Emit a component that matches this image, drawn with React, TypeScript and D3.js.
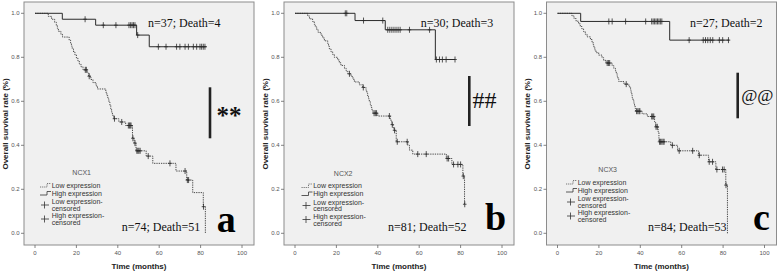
import React from "react";
import * as d3 from "d3";

// ---------- data ----------
const panelLabels = ["a", "b", "c"];
const geneNames = ["NCX1", "NCX2", "NCX3"];
const highNotes = ["n=37; Death=4", "n=30; Death=3", "n=27; Death=2"];
const lowNotes = ["n=74; Death=51", "n=81; Death=52", "n=84; Death=53"];
const sigMarks = ["**", "##", "@@"];
const xTicks = [0, 20, 40, 60, 80, 100];
const yTicks = [0, 0.2, 0.4, 0.6, 0.8, 1.0];
const legendLabels = ["Low expression", "High expression", "Low expression-", "High expression-"];
const xTitle = "Time (months)";
const yTitle = "Overall survival rate (%)";

// NCX1
const highA_steps: [number, number][] = [[13.2, 0.973], [29.3, 0.946], [49.1, 0.901], [55.2, 0.848]];
const highA_censor = [24.2, 33.0, 39.1, 45.4, 46.2, 46.9, 47.6, 48.3, 49.6, 59.6, 63.3, 68.4, 70.0, 72.5, 74.1, 76.5, 78.1, 79.7, 80.5, 81.3, 82.1];
const highA_end = 82.9;
const lowA_steps: [number, number][] = [
  [6.4, 0.986], [8.0, 0.973], [9.5, 0.959], [10.3, 0.945], [10.8, 0.932], [11.3, 0.918], [12.5, 0.905], [13.3, 0.892],
  [16.5, 0.878], [17.2, 0.865], [17.6, 0.851], [18.0, 0.838], [18.6, 0.824], [19.3, 0.811], [20.0, 0.797], [20.7, 0.784],
  [21.4, 0.770], [22.2, 0.757], [23.2, 0.743], [25.3, 0.728], [25.9, 0.714], [27.0, 0.699], [28.0, 0.685], [29.5, 0.670],
  [30.2, 0.656], [34.2, 0.641], [34.7, 0.626], [35.2, 0.611], [35.7, 0.596], [36.2, 0.581], [36.6, 0.566], [37.0, 0.551],
  [37.4, 0.536], [38.0, 0.521], [40.5, 0.506], [43.8, 0.490], [47.1, 0.432], [47.9, 0.410], [48.8, 0.375], [53.7, 0.351],
  [56.9, 0.318], [68.1, 0.283], [73.3, 0.242], [76.2, 0.185], [81.3, 0.121], [82.3, 0]
];
const lowA_censor = [24.3, 24.8, 26.2, 38.4, 41.9, 45.1, 45.6, 46.0, 46.4, 47.3, 48.3, 49.2, 49.7, 50.2, 50.8, 54.7, 65.2, 72.5, 73.6, 74.2, 81.4];
const lowA_end = 82.3;

// NCX2
const highB_steps: [number, number][] = [[29.0, 0.967], [43.6, 0.925], [67.8, 0.790]];
const highB_censor = [24.3, 25.0, 33.1, 42.4, 44.8, 45.8, 46.8, 47.8, 48.8, 49.8, 50.8, 55.3, 65.0, 68.3, 69.8, 71.2, 73.0, 77.3];
const highB_end = 77.3;
const lowB_steps: [number, number][] = [
  [6.1, 0.988], [7.0, 0.975], [8.5, 0.963], [9.3, 0.950], [9.8, 0.938], [10.5, 0.925], [11.2, 0.913], [12.6, 0.900],
  [13.4, 0.888], [14.2, 0.875], [15.8, 0.863], [16.2, 0.850], [16.6, 0.838], [17.4, 0.825], [18.2, 0.813], [19.0, 0.800],
  [20.6, 0.788], [21.4, 0.775], [22.2, 0.763], [23.9, 0.750], [24.7, 0.738], [25.5, 0.725], [27.1, 0.713], [28.0, 0.700],
  [28.7, 0.688], [31.1, 0.675], [32.7, 0.663], [34.3, 0.650], [34.7, 0.637], [35.1, 0.624], [35.5, 0.611], [35.9, 0.598],
  [36.4, 0.585], [36.8, 0.572], [37.2, 0.559], [37.6, 0.546], [40.0, 0.533], [46.0, 0.520], [46.4, 0.507], [46.8, 0.494],
  [47.3, 0.481], [47.8, 0.468], [48.9, 0.416], [54.5, 0.400], [55.3, 0.378], [56.9, 0.360], [73.1, 0.340], [75.8, 0.313],
  [81.1, 0.260], [81.9, 0.132]
];
const lowB_censor = [26.3, 33.0, 38.2, 38.8, 39.4, 45.6, 47.0, 48.1, 49.4, 54.2, 59.3, 63.4, 73.5, 74.2, 76.6, 78.7, 80.0, 81.3, 82.0];
const lowB_end = 82.0;

// NCX3
const highC_steps: [number, number][] = [[11.2, 0.963], [54.2, 0.878]];
const highC_censor = [24.8, 26.4, 32.9, 42.6, 45.5, 46.2, 46.9, 47.6, 48.3, 49.0, 49.7, 50.4, 63.6, 70.4, 71.5, 72.6, 73.8, 75.0, 78.2, 79.8, 82.6];
const highC_end = 83.0;
const lowC_steps: [number, number][] = [
  [7.0, 0.988], [8.0, 0.976], [9.0, 0.964], [10.2, 0.952], [11.0, 0.940], [11.8, 0.929], [12.6, 0.917], [13.4, 0.905],
  [14.3, 0.893], [15.9, 0.881], [16.7, 0.869], [17.2, 0.857], [17.6, 0.845], [18.0, 0.833], [18.6, 0.821], [19.9, 0.810],
  [21.5, 0.798], [22.3, 0.786], [23.4, 0.774], [26.4, 0.762], [27.2, 0.750], [28.0, 0.738], [28.4, 0.726], [28.8, 0.714],
  [29.2, 0.702], [29.6, 0.690], [32.1, 0.678], [34.5, 0.666], [35.3, 0.651], [35.6, 0.639], [35.9, 0.627], [36.1, 0.615],
  [36.5, 0.603], [36.9, 0.591], [37.2, 0.579], [37.5, 0.567], [37.7, 0.555], [40.9, 0.543], [43.4, 0.531], [46.9, 0.507],
  [47.4, 0.484], [48.6, 0.461], [49.0, 0.416], [54.7, 0.400], [58.0, 0.375], [68.2, 0.355], [73.0, 0.325], [76.5, 0.290],
  [81.3, 0.219], [82.1, 0]
];
const lowC_censor = [24.0, 24.6, 25.2, 33.2, 38.2, 38.8, 39.4, 39.8, 45.5, 46.0, 46.5, 47.6, 48.2, 49.3, 49.8, 50.4, 51.0, 51.5, 55.5, 58.8, 65.3, 68.5, 73.3, 74.9, 77.0, 79.7, 80.5, 81.4];
const lowC_end = 82.1;

const curves = [
  { high: { steps: highA_steps, censor: highA_censor, end: highA_end }, low: { steps: lowA_steps, censor: lowA_censor, end: lowA_end } },
  { high: { steps: highB_steps, censor: highB_censor, end: highB_end }, low: { steps: lowB_steps, censor: lowB_censor, end: lowB_end } },
  { high: { steps: highC_steps, censor: highC_censor, end: highC_end }, low: { steps: lowC_steps, censor: lowC_censor, end: lowC_end } },
];

// ---------- layout ----------
const W = 778, H = 273;
const boxLefts = [24, 284, 546.5];
const BOX_W = 230, BOX_TOP = 2, BOX_BOTTOM = 245;
const Y_TOP = 13.3, Y_BOT = 233.3;
const annot = [
  { hx: 124, bar: 186, barTop: 87.3, barBot: 138.3, sx: 192.5, sy: 123.5, sfs: 25, sw: "bold", lx: 97.7, lbl: 192.7, lblY: 231.7, legDx: 0, legDy: 0 },
  { hx: 136.7, bar: 185.3, barTop: 76, barBot: 126, sx: 188.5, sy: 108.3, sfs: 24, sw: "normal", lx: 104, lbl: 201, lblY: 230.3, legDx: 1.5, legDy: 0.5 },
  { hx: 143.5, bar: 191.2, barTop: 72.7, barBot: 118.3, sx: 194.7, sy: 101, sfs: 17.5, sw: "normal", lx: 101.5, lbl: 206.5, lblY: 229.5, legDx: 3.5, legDy: -3 },
];

const SANS = "'Liberation Sans', Arial, sans-serif";
const SERIF = "'Liberation Serif', 'Times New Roman', serif";

function survAt(steps: [number, number][], t: number) {
  let s = 1;
  for (const [st, sv] of steps) if (st <= t) s = sv;
  return s;
}

function Panel({ i }: { i: number }) {
  const L = boxLefts[i];
  const x = d3.scaleLinear().domain([0, 100]).range([L + 11, L + 218]);
  const y = d3.scaleLinear().domain([0, 1]).range([Y_BOT, Y_TOP]);
  const line = d3.line<[number, number]>().x(d => x(d[0])).y(d => y(d[1])).curve(d3.curveStepAfter);
  const c = curves[i];
  const a = annot[i];
  const mkPts = (cv: { steps: [number, number][]; end: number }) => {
    const pts: [number, number][] = [[0, 1], ...cv.steps];
    pts.push([cv.end, cv.steps[cv.steps.length - 1][1]]);
    return pts;
  };
  const censorMarks = (cv: { steps: [number, number][]; censor: number[] }, key: string) =>
    cv.censor.map((t, k) => {
      const cx = x(t), cy = y(survAt(cv.steps, t));
      return (
        <g key={key + k} stroke="#2a2a2a" strokeWidth={0.8}>
          <line x1={cx} x2={cx} y1={cy - 3} y2={cy + 3} />
          <line x1={cx - 1.8} x2={cx + 1.8} y1={cy} y2={cy} />
        </g>
      );
    });
  const lgX = L + 16 + a.legDx;
  const lgT = L + 27.7 + a.legDx;
  const dy = a.legDy;
  const cx = L + BOX_W / 2;
  return (
    <g>
      <rect x={L} y={BOX_TOP} width={BOX_W} height={BOX_BOTTOM - BOX_TOP} fill="#f0f0f0" stroke="#8c8c8c" strokeWidth={1} />
      {/* y ticks */}
      {yTicks.map(v => (
        <g key={"y" + v}>
          <line x1={L - 3} x2={L} y1={y(v)} y2={y(v)} stroke="#666" strokeWidth={0.8} />
          <text x={L - 4.5} y={y(v) + 2} fontSize={6} fill="#555" textAnchor="end" fontFamily={SANS}>{v.toFixed(1)}</text>
        </g>
      ))}
      {xTicks.map(v => (
        <g key={"x" + v}>
          <line x1={x(v)} x2={x(v)} y1={BOX_BOTTOM} y2={BOX_BOTTOM + 3} stroke="#666" strokeWidth={0.8} />
          <text x={x(v)} y={254.5} fontSize={6} fill="#555" textAnchor="middle" fontFamily={SANS}>{v}</text>
        </g>
      ))}
      <text x={cx} y={268.5} fontSize={8} fontWeight="bold" textAnchor="middle" fontFamily={SANS} fill="#222">{xTitle}</text>
      <text transform={`translate(${L - 16.5},${124}) rotate(-90)`} fontSize={8} fontWeight="bold" textAnchor="middle" fontFamily={SANS} fill="#222">{yTitle}</text>

      {/* curves */}
      <path d={line(mkPts(c.low)) || ""} fill="none" stroke="#4a4a4a" strokeWidth={1} strokeDasharray="1.3,1" />
      <path d={line(mkPts(c.high)) || ""} fill="none" stroke="#2a2a2a" strokeWidth={1} />
      {censorMarks(c.low, "l")}
      {censorMarks(c.high, "h")}

      {/* annotations */}
      <text x={L + a.hx} y={26.5} fontSize={12} fontFamily={SERIF} fill="#111">{highNotes[i]}</text>
      <text x={L + a.lx} y={231} fontSize={12} fontFamily={SERIF} fill="#111">{lowNotes[i]}</text>
      <line x1={L + a.bar} x2={L + a.bar} y1={a.barTop} y2={a.barBot} stroke="#222" strokeWidth={2.6} />
      <text x={L + a.sx} y={a.sy} fontSize={a.sfs} fontWeight={a.sw} fontFamily={SERIF} fill="#111">{sigMarks[i]}</text>
      <text x={L + a.lbl} y={a.lblY} fontSize={38} fontWeight="bold" fontFamily={SERIF} fill="#000">{panelLabels[i]}</text>

      {/* legend */}
      <text x={L + 57.7 + a.legDx} y={175.2 + dy} fontSize={7} textAnchor="middle" fontFamily={SANS} fill="#555">{geneNames[i]}</text>
      <path d={`M${lgX},${187 + dy}H${lgX + 7}V${183.5 + dy}H${lgX + 11}`} fill="none" stroke="#555" strokeWidth={0.8} strokeDasharray="1.2,0.9" />
      <text x={lgT} y={187.5 + dy} fontSize={7} fontFamily={SANS} fill="#333">{legendLabels[0]}</text>
      <path d={`M${lgX},${195 + dy}H${lgX + 7}V${191.5 + dy}H${lgX + 11}`} fill="none" stroke="#333" strokeWidth={0.8} />
      <text x={lgT} y={195.8 + dy} fontSize={7} fontFamily={SANS} fill="#333">{legendLabels[1]}</text>
      <g stroke="#333" strokeWidth={0.8}>
        <line x1={lgX + 1} x2={lgX + 9} y1={205 + dy} y2={205 + dy} />
        <line x1={lgX + 4.5} x2={lgX + 4.5} y1={201.5 + dy} y2={208.5 + dy} />
        <line x1={lgX + 1} x2={lgX + 9} y1={219 + dy} y2={219 + dy} />
        <line x1={lgX + 4.5} x2={lgX + 4.5} y1={215.5 + dy} y2={222.5 + dy} />
      </g>
      <text x={lgT} y={204 + dy} fontSize={7} fontFamily={SANS} fill="#333">{legendLabels[2]}</text>
      <text x={lgT} y={210.6 + dy} fontSize={7} fontFamily={SANS} fill="#333">censored</text>
      <text x={lgT} y={218.3 + dy} fontSize={7} fontFamily={SANS} fill="#333">{legendLabels[3]}</text>
      <text x={lgT} y={225 + dy} fontSize={7} fontFamily={SANS} fill="#333">censored</text>
    </g>
  );
}

export default function App() {
  return (
    <svg width={W} height={H} viewBox={`0 0 ${W} ${H}`} style={{ position: "absolute", left: 0, top: 0, background: "#fff" }}>
      <rect x={0} y={0} width={W} height={H} fill="#fff" />
      {[0, 1, 2].map(i => <Panel key={i} i={i} />)}
    </svg>
  );
}
